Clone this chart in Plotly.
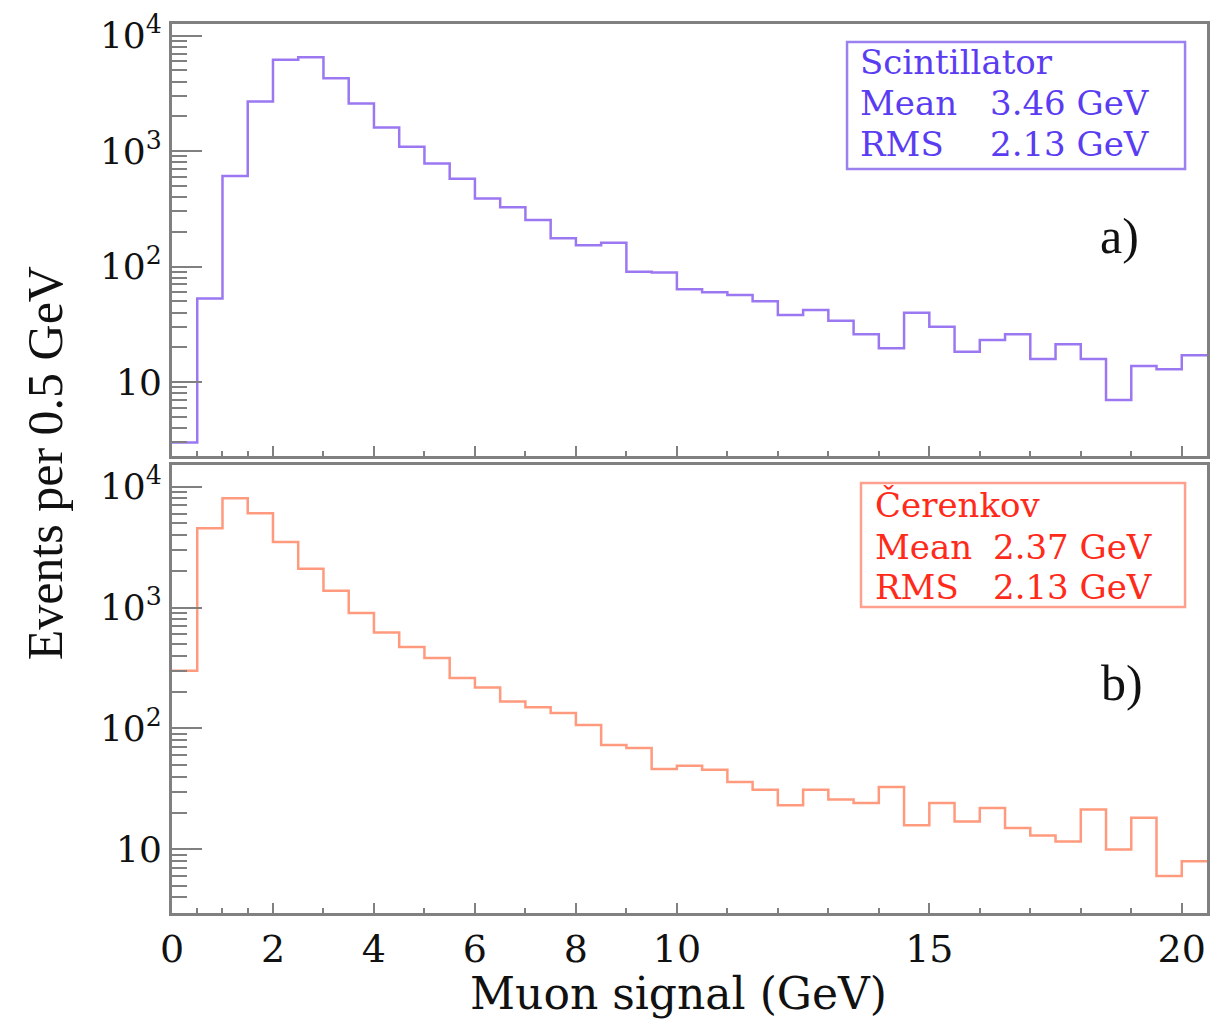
import numpy as np
import plotly.graph_objects as go

# ---------------- data ----------------
bin_width = 0.5  # GeV
scint_counts = [3, 53, 608, 2690, 6200, 6500, 4270, 2590, 1600, 1090, 782, 575, 389, 326,
                253, 176, 153, 161, 90, 89, 63.5, 59.8, 56.6, 50.2, 38, 42, 34, 25.9, 19.6,
                39.8, 30.1, 18.3, 23.1, 25.9, 15.8, 21.3, 15.8, 7.0, 13.8, 12.9, 17.1]
ceren_counts = [300, 4530, 8020, 6030, 3490, 2090, 1375, 900, 622, 471, 382, 261, 218, 167,
                150, 134, 107, 73, 68.8, 46.2, 49.2, 45.6, 36.1, 31.1, 23.1, 31.1, 25.8, 24.2,
                32.8, 15.8, 24.2, 17.0, 22.0, 15.0, 13.0, 11.6, 21.3, 9.95, 18.2, 6.0, 7.96]

x_major_ticks = [0, 2, 4, 6, 8, 10, 15, 20]
x_minor_ticks = [0.5, 1, 1.5, 3, 5, 7, 9, 11, 12, 13, 14, 16, 17, 18, 19]
y_tick_vals = [10, 100, 1000, 10000]
y_tick_text = ["10", "10<sup>2</sup>", "10<sup>3</sup>", "10<sup>4</sup>"]

scint_label = "Scintillator"
scint_stats = [("Mean", "3.46 GeV"), ("RMS", "2.13 GeV")]
ceren_label = "Čerenkov"
ceren_stats = [("Mean", "2.37 GeV"), ("RMS", "2.13 GeV")]

# ---------------- styles ----------------
AX = "#808080"
SCINT_LINE = "#9b78f2"
SCINT_TEXT = "#5a3cf2"
SCINT_BOX = "#9c80f0"
CER_LINE = "#ff9a7e"
CER_TEXT = "#ff2a1a"
CER_BOX = "#ffa08e"
SERIF = "DejaVu Serif"


def step_xy(counts):
    edges = np.arange(len(counts) + 1) * bin_width
    ys = list(counts) + [counts[-1]]
    return edges, ys


fig = go.Figure()
xs, ys = step_xy(scint_counts)
fig.add_trace(go.Scatter(x=xs, y=ys, mode="lines", line=dict(shape="hv", color=SCINT_LINE, width=2.5),
                         xaxis="x", yaxis="y", hoverinfo="skip"))
xs, ys = step_xy(ceren_counts)
fig.add_trace(go.Scatter(x=xs, y=ys, mode="lines", line=dict(shape="hv", color=CER_LINE, width=2.5),
                         xaxis="x2", yaxis="y2", hoverinfo="skip"))

minor_y = [m * 10 ** k for k in range(0, 5) for m in range(2, 10)]

xcommon = dict(range=[0, 20.5], showline=True, linecolor=AX, linewidth=3, mirror=True,
               ticks="inside", ticklen=10, tickwidth=2, tickcolor=AX,
               tickmode="array", tickvals=x_major_ticks, showgrid=False, zeroline=False,
               minor=dict(tickmode="array", tickvals=x_minor_ticks, ticks="inside",
                          ticklen=5, tickwidth=2, tickcolor=AX, showgrid=False))
ycommon = dict(type="log", showline=True, linecolor=AX, linewidth=3, mirror=True,
               ticks="inside", ticklen=30, tickwidth=2, tickcolor=AX,
               tickmode="array", tickvals=y_tick_vals, ticktext=y_tick_text,
               tickfont=dict(family=SERIF, size=36, color="#111"),
               showgrid=False, zeroline=False,
               minor=dict(tickmode="array", tickvals=minor_y, ticks="inside",
                          ticklen=15, tickwidth=2, tickcolor=AX, showgrid=False))

fig.update_layout(
    width=1214, height=1023,
    margin=dict(l=172, r=4, t=24, b=110),
    paper_bgcolor="white", plot_bgcolor="white", showlegend=False,
    xaxis=dict(**xcommon, anchor="y", showticklabels=False),
    yaxis=dict(**ycommon, domain=[0.514, 1.0], range=[0.359, 4.101], anchor="x"),
    xaxis2=dict(**xcommon, anchor="y2", showticklabels=True,
                tickfont=dict(family=SERIF, size=38, color="#111")),
    yaxis2=dict(**ycommon, domain=[0.0, 0.504], range=[0.473, 4.180], anchor="x2"),
)


def px2paper_x(px):
    return (px - 172) / 1038.0


def px2paper_y(py):
    return (913 - py) / 889.0


annotations = []
shapes = []

# Titles
annotations.append(dict(text="Muon signal (GeV)", xref="paper", yref="paper",
                         x=px2paper_x(680), y=px2paper_y(993), xanchor="center", yanchor="middle",
                         showarrow=False, font=dict(family=SERIF, size=44, color="#111")))
annotations.append(dict(text="Events per 0.5 GeV", xref="paper", yref="paper",
                        x=px2paper_x(45), y=px2paper_y(463), xanchor="center", yanchor="middle",
                        textangle=-90, showarrow=False,
                        font=dict(family="Liberation Serif", size=50, color="#111")))

# Stat boxes
def stat_box(label, stats, color_text, color_box, box, x_lab, x_val, y_lines):
    x0, y0, x1, y1 = box
    shapes.append(dict(type="rect", xref="paper", yref="paper",
                       x0=px2paper_x(x0), x1=px2paper_x(x1), y0=px2paper_y(y1), y1=px2paper_y(y0),
                       line=dict(color=color_box, width=2.5), fillcolor="rgba(0,0,0,0)"))
    annotations.append(dict(text=label, xref="paper", yref="paper", x=px2paper_x(x_lab),
                            y=px2paper_y(y_lines[0]), xanchor="left", yanchor="middle",
                            showarrow=False, font=dict(family=SERIF, size=34, color=color_text)))
    for (name, val), yl in zip(stats, y_lines[1:]):
        annotations.append(dict(text=name, xref="paper", yref="paper", x=px2paper_x(x_lab),
                                y=px2paper_y(yl), xanchor="left", yanchor="middle",
                                showarrow=False, font=dict(family=SERIF, size=34, color=color_text)))
        annotations.append(dict(text=val, xref="paper", yref="paper", x=px2paper_x(x_val),
                                y=px2paper_y(yl), xanchor="left", yanchor="middle",
                                showarrow=False, font=dict(family=SERIF, size=34, color=color_text)))


stat_box(scint_label, scint_stats, SCINT_TEXT, SCINT_BOX, (849, 42, 1188, 169), 860, 990, [62, 103, 144])
stat_box(ceren_label, ceren_stats, CER_TEXT, CER_BOX, (863, 483, 1188, 607), 875, 993, [505, 547, 587])

annotations.append(dict(text="a)", xref="paper", yref="paper", x=px2paper_x(1122), y=px2paper_y(236),
                        xanchor="center", yanchor="middle", showarrow=False,
                        font=dict(family="Liberation Serif", size=50, color="#111")))
annotations.append(dict(text="b)", xref="paper", yref="paper", x=px2paper_x(1125), y=px2paper_y(683),
                        xanchor="center", yanchor="middle", showarrow=False,
                        font=dict(family="Liberation Serif", size=50, color="#111")))

fig.update_layout(annotations=annotations, shapes=shapes)
fig.write_html("out.html")
